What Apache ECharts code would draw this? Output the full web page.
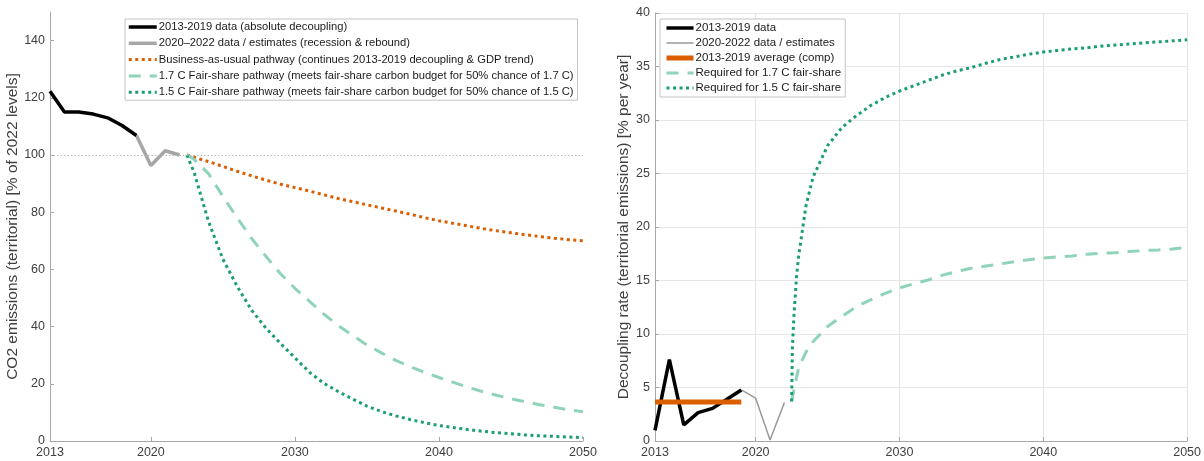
<!DOCTYPE html>
<html>
<head>
<meta charset="utf-8">
<script src="https://cdn.jsdelivr.net/npm/echarts@6/dist/echarts.min.js"></script>
<style>
html,body{margin:0;padding:0;background:#fff;}
#chart{width:1204px;height:461px;}
</style>
</head>
<body>
<div id="chart"></div>
<script>
// ---------- Left panel data (CO2 emissions, % of 2022 levels) ----------
const xTickValues = [2013, 2020, 2030, 2040, 2050];
const leftYTicks = [0, 20, 40, 60, 80, 100, 120, 140];
const leftHistYears = [2013, 2014, 2015, 2016, 2017, 2018, 2019];
const leftHistValues = [122.3, 115.0, 115.0, 114.3, 113.0, 110.3, 106.8];
const leftRecYears = [2019, 2020, 2021, 2022];
const leftRecValues = [106.8, 96.3, 101.5, 100.0];
const pathYears = [2022.5, 2023, 2024, 2025, 2026, 2027, 2028, 2029, 2030, 2031, 2032, 2033, 2034, 2035, 2036, 2037, 2038, 2039, 2040, 2041, 2042, 2043, 2044, 2045, 2046, 2047, 2048, 2049, 2050];
const bauValues = [100, 99.2, 97.7, 96.0, 94.3, 92.7, 91.2, 89.8, 88.6, 87.4, 86.1, 84.8, 83.7, 82.6, 81.5, 80.4, 79.3, 78.1, 77.0, 76.1, 75.2, 74.3, 73.5, 72.8, 72.1, 71.5, 70.9, 70.4, 70.0];
const fs17Values = [100, 98.5, 93.5, 85.5, 78.0, 70.8, 64.5, 58.5, 53.4, 48.9, 44.4, 40.4, 36.9, 33.6, 30.8, 28.2, 26.0, 24.0, 22.2, 20.5, 18.8, 17.3, 16.0, 14.8, 13.7, 12.7, 11.8, 10.9, 10.2];
const fs15Values = [100, 94.0, 76.8, 63.6, 54.0, 45.7, 39.4, 34.1, 29.1, 24.1, 20.2, 17.3, 14.7, 12.2, 10.3, 8.8, 7.5, 6.4, 5.4, 4.7, 4.0, 3.4, 2.9, 2.5, 2.1, 1.8, 1.6, 1.4, 1.2];
const referenceLevel = 100;

// ---------- Right panel data (decoupling rate, % per year) ----------
const rateHistYears = [2013, 2014, 2015, 2016, 2017, 2018, 2019];
const rateHistValues = [1.0, 7.6, 1.5, 2.65, 3.05, 3.9, 4.77];
const rateRecYears = [2019, 2020, 2021, 2022];
const rateRecValues = [4.77, 4.0, 0.1, 3.6];
const avgYears = [2013, 2019];
const avgValues = [3.65, 3.65];
const req17Years = [2022.5, 2022.75, 2023, 2023.5, 2024, 2025, 2026, 2027, 2028, 2029, 2030, 2031, 2032, 2033, 2034, 2035, 2036, 2037, 2038, 2039, 2040, 2041, 2042, 2043, 2044, 2045, 2046, 2047, 2048, 2049, 2050];
const req17Values = [3.7, 5.4, 6.9, 8.3, 9.3, 10.7, 11.65, 12.55, 13.2, 13.8, 14.3, 14.7, 15.05, 15.5, 15.85, 16.15, 16.35, 16.55, 16.75, 16.95, 17.1, 17.2, 17.3, 17.45, 17.55, 17.6, 17.7, 17.8, 17.85, 17.95, 18.1];
const req15Years = [2022.5, 2022.55, 2022.65, 2022.85, 2023, 2023.5, 2024, 2025, 2026, 2027, 2028, 2029, 2030, 2031, 2032, 2033, 2034, 2035, 2036, 2037, 2038, 2039, 2040, 2041, 2042, 2043, 2044, 2045, 2046, 2047, 2048, 2049, 2050];
const req15Values = [3.7, 8.5, 11.5, 15.5, 17.4, 22.0, 24.7, 27.6, 29.3, 30.4, 31.35, 32.1, 32.7, 33.2, 33.7, 34.2, 34.6, 34.9, 35.3, 35.65, 35.9, 36.15, 36.35, 36.5, 36.65, 36.75, 36.9, 37.0, 37.1, 37.2, 37.3, 37.4, 37.5];

const leftNames = [
  '2013-2019 data (absolute decoupling)',
  '2020\u20132022 data / estimates (recession & rebound)',
  'Business-as-usual pathway (continues 2013-2019 decoupling & GDP trend)',
  '1.7 C Fair-share pathway (meets fair-share carbon budget for 50% chance of 1.7 C)',
  '1.5 C Fair-share pathway (meets fair-share carbon budget for 50% chance of 1.5 C)'
];
const rightNames = [
  '2013-2019 data',
  '2020-2022 data / estimates',
  '2013-2019 average (comp)',
  'Required for 1.7 C fair-share',
  'Required for 1.5 C fair-share'
];

const C_BLACK = '#000000', C_GRAY = '#a6a6a6', C_ORANGE = '#d95f02', C_DKGREEN = '#1b9e77', C_LTGREEN = '#8fd3b8';
const FONT = 'Liberation Sans, Arial, sans-serif';

function pairs(xs, ys) { return xs.map((x, i) => [x, ys[i]]); }

const axisTextColor = '#404040';
function xAxisCfg(gridIndex, withSplit) {
  return {
    type: 'value', gridIndex: gridIndex, min: 2013, max: 2050,
    axisLine: { show: true, lineStyle: { color: '#a8a8a8', width: 1 } },
    axisTick: { show: true, inside: true, length: 4, customValues: xTickValues, lineStyle: { color: '#a8a8a8' } },
    axisLabel: { customValues: xTickValues, formatter: v => String(v), color: axisTextColor, fontSize: 12.5, fontFamily: FONT, margin: 5 },
    splitLine: { show: withSplit, lineStyle: { color: '#e6e6e6', width: 1 } }
  };
}

const option = {
  animation: false,
  backgroundColor: '#ffffff',
  textStyle: { fontFamily: FONT },
  grid: [
    { left: 50, top: 12, width: 533, height: 429 },
    { left: 655, top: 13, width: 533, height: 428 }
  ],
  xAxis: [xAxisCfg(0, false), xAxisCfg(1, true)],
  yAxis: [
    {
      type: 'value', gridIndex: 0, min: 0, max: 150,
      name: 'CO2 emissions (territorial) [% of 2022 levels]',
      nameLocation: 'middle', nameGap: 26,
      nameTextStyle: { color: axisTextColor, fontSize: 15.5, fontFamily: FONT },
      axisLine: { show: true, lineStyle: { color: '#a8a8a8', width: 1 } },
      axisTick: { show: true, inside: true, length: 4, customValues: leftYTicks, lineStyle: { color: '#a8a8a8' } },
      axisLabel: { customValues: leftYTicks, color: axisTextColor, fontSize: 12.5, fontFamily: FONT, margin: 5 },
      splitLine: { show: false }
    },
    {
      type: 'value', gridIndex: 1, min: 0, max: 40, interval: 5,
      name: 'Decoupling rate (territorial emissions) [% per year]',
      nameLocation: 'middle', nameGap: 20,
      nameTextStyle: { color: axisTextColor, fontSize: 15.5, fontFamily: FONT },
      axisLine: { show: true, lineStyle: { color: '#a8a8a8', width: 1 } },
      axisTick: { show: true, inside: true, length: 4, lineStyle: { color: '#a8a8a8' } },
      axisLabel: { color: axisTextColor, fontSize: 12.5, fontFamily: FONT, margin: 5 },
      splitLine: { show: true, lineStyle: { color: '#e6e6e6', width: 1 } }
    }
  ],
  legend: [
    {
      data: leftNames, orient: 'vertical', left: 125, top: 19,
      itemWidth: 28, itemHeight: 12, itemGap: 4.3,
      padding: [2, 4, 2, 2],
      borderColor: '#c4c4c4', borderWidth: 1, backgroundColor: '#ffffff',
      itemStyle: { opacity: 0 },
      lineStyle: { width: 'inherit' },
      textStyle: { color: '#1a1a1a', fontSize: 11.2, fontFamily: FONT, lineHeight: 12, padding: [0, 0, 0, -3] },
      selectedMode: false
    },
    {
      data: rightNames, orient: 'vertical', left: 660, top: 19,
      itemWidth: 27, itemHeight: 12, itemGap: 3,
      padding: [3, 4, 3, 4],
      borderColor: '#c4c4c4', borderWidth: 1, backgroundColor: '#ffffff',
      itemStyle: { opacity: 0 },
      lineStyle: { width: 'inherit' },
      textStyle: { color: '#1a1a1a', fontSize: 11.5, fontFamily: FONT, lineHeight: 12, padding: [0, 0, 0, -3] },
      selectedMode: false
    }
  ],
  series: [
    {
      name: leftNames[0], type: 'line', xAxisIndex: 0, yAxisIndex: 0, symbol: 'none', z: 5,
      data: pairs(leftHistYears, leftHistValues),
      lineStyle: { color: C_BLACK, width: 3.5 }, itemStyle: { color: C_BLACK },
      markLine: {
        silent: true, symbol: 'none', label: { show: false },
        lineStyle: { color: '#b4b4b4', width: 1, type: [1.5, 2] },
        data: [{ yAxis: referenceLevel }]
      }
    },
    {
      name: leftNames[1], type: 'line', xAxisIndex: 0, yAxisIndex: 0, symbol: 'none', z: 4,
      data: pairs(leftRecYears, leftRecValues),
      lineStyle: { color: C_GRAY, width: 3.5 }, itemStyle: { color: C_GRAY }
    },
    {
      name: leftNames[2], type: 'line', xAxisIndex: 0, yAxisIndex: 0, symbol: 'none',
      data: pairs(pathYears, bauValues),
      lineStyle: { color: C_ORANGE, width: 3, type: [3, 3.5] }, itemStyle: { color: C_ORANGE }
    },
    {
      name: leftNames[3], type: 'line', xAxisIndex: 0, yAxisIndex: 0, symbol: 'none',
      data: pairs(pathYears, fs17Values),
      lineStyle: { color: C_LTGREEN, width: 3, type: [12, 9] }, itemStyle: { color: C_LTGREEN }
    },
    {
      name: leftNames[4], type: 'line', xAxisIndex: 0, yAxisIndex: 0, symbol: 'none',
      data: pairs(pathYears, fs15Values),
      lineStyle: { color: C_DKGREEN, width: 3, type: [3, 3.5] }, itemStyle: { color: C_DKGREEN }
    },
    {
      name: rightNames[0], type: 'line', xAxisIndex: 1, yAxisIndex: 1, symbol: 'none', z: 4,
      data: pairs(rateHistYears, rateHistValues),
      lineStyle: { color: C_BLACK, width: 3.5 }, itemStyle: { color: C_BLACK }
    },
    {
      name: rightNames[1], type: 'line', xAxisIndex: 1, yAxisIndex: 1, symbol: 'none',
      data: pairs(rateRecYears, rateRecValues),
      lineStyle: { color: '#999999', width: 1.5 }, itemStyle: { color: '#999999' }
    },
    {
      name: rightNames[2], type: 'line', xAxisIndex: 1, yAxisIndex: 1, symbol: 'none', z: 5,
      data: pairs(avgYears, avgValues),
      lineStyle: { color: C_ORANGE, width: 5 }, itemStyle: { color: C_ORANGE }
    },
    {
      name: rightNames[3], type: 'line', xAxisIndex: 1, yAxisIndex: 1, symbol: 'none',
      data: pairs(req17Years, req17Values),
      lineStyle: { color: C_LTGREEN, width: 3, type: [12, 9] }, itemStyle: { color: C_LTGREEN }
    },
    {
      name: rightNames[4], type: 'line', xAxisIndex: 1, yAxisIndex: 1, symbol: 'none',
      data: pairs(req15Years, req15Values),
      lineStyle: { color: C_DKGREEN, width: 3, type: [3, 3.5] }, itemStyle: { color: C_DKGREEN }
    }
  ]
};

const chart = echarts.init(document.getElementById('chart'), null, { renderer: 'canvas' });
chart.setOption(option);
</script>
</body>
</html>
